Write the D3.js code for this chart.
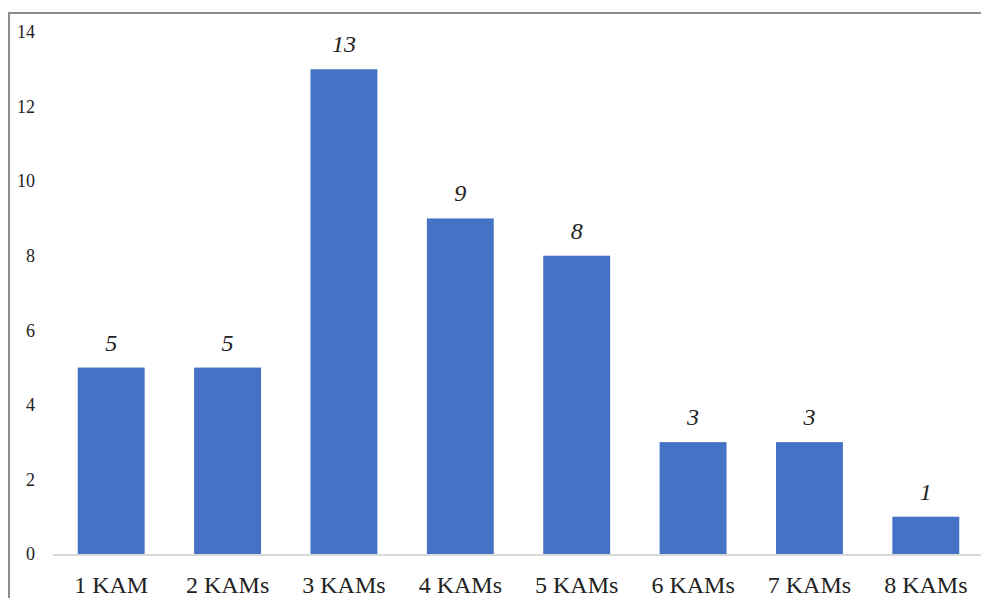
<!DOCTYPE html>
<html>
<head>
<meta charset="utf-8">
<script src="https://cdn.jsdelivr.net/npm/d3@7"></script>
</head>
<body style="margin:0">
<svg id="kam" width="981" height="598" style="display:block"></svg>
<script>
// KAM counts per report
const categories = ["1 KAM", "2 KAMs", "3 KAMs", "4 KAMs", "5 KAMs", "6 KAMs", "7 KAMs", "8 KAMs"];
const counts = [5, 5, 13, 9, 8, 3, 3, 1];
const yTicks = [0, 2, 4, 6, 8, 10, 12, 14];

const serif = '"Liberation Serif", "Times New Roman", Tinos, serif';
const svg = d3.select("#kam");

const x = d3.scaleBand()
  .domain(categories)
  .range([53, 984])
  .paddingInner(0.425)
  .paddingOuter(0.2125);

const y = d3.scaleLinear()
  .domain([0, 14])
  .range([554, 32]);

// Frame (top and left edges)
svg.append("path")
  .attr("d", "M9,598 V13 H981")
  .attr("fill", "none")
  .attr("stroke", "#8c8c8c")
  .attr("stroke-width", 2);

// Y axis labels (no line, no ticks)
const yAxis = d3.axisLeft(y).tickValues(yTicks).tickSize(0).tickPadding(0);
const gy = svg.append("g").attr("transform", "translate(35,0)").call(yAxis);
gy.select(".domain").remove();
gy.attr("font-family", serif).attr("font-size", 18);
gy.selectAll("text")
  .style("font-family", serif)
  .style("font-size", "18px")
  .attr("fill", "#222");

// Bars
svg.append("g").selectAll("rect")
  .data(categories)
  .join("rect")
  .attr("x", d => x(d))
  .attr("width", x.bandwidth())
  .attr("y", (d, i) => y(counts[i]))
  .attr("height", (d, i) => y(0) - y(counts[i]))
  .attr("fill", "#4472C4");

// Baseline
svg.append("line")
  .attr("x1", 53).attr("x2", 981)
  .attr("y1", y(0) + 1).attr("y2", y(0) + 1)
  .attr("stroke", "#d9d9d9")
  .attr("stroke-width", 2);

// Category labels
const xAxis = d3.axisBottom(x).tickSize(0).tickPadding(0);
const gx = svg.append("g").attr("transform", "translate(0,593)").call(xAxis);
gx.select(".domain").remove();
gx.attr("font-family", serif).attr("font-size", 23.5);
gx.selectAll("text")
  .attr("dy", 0)
  .style("font-family", serif)
  .style("font-size", "24px")
  .attr("fill", "#222");

// Value labels
svg.append("g")
  .selectAll("text")
  .data(categories)
  .join("text")
  .attr("x", d => x(d) + x.bandwidth() / 2)
  .attr("y", (d, i) => y(counts[i]) - 17)
  .attr("text-anchor", "middle")
  .style("font-family", serif)
  .style("font-size", "24px")
  .style("font-style", "italic")
  .attr("fill", "#222")
  .text((d, i) => counts[i]);
</script>
</body>
</html>
